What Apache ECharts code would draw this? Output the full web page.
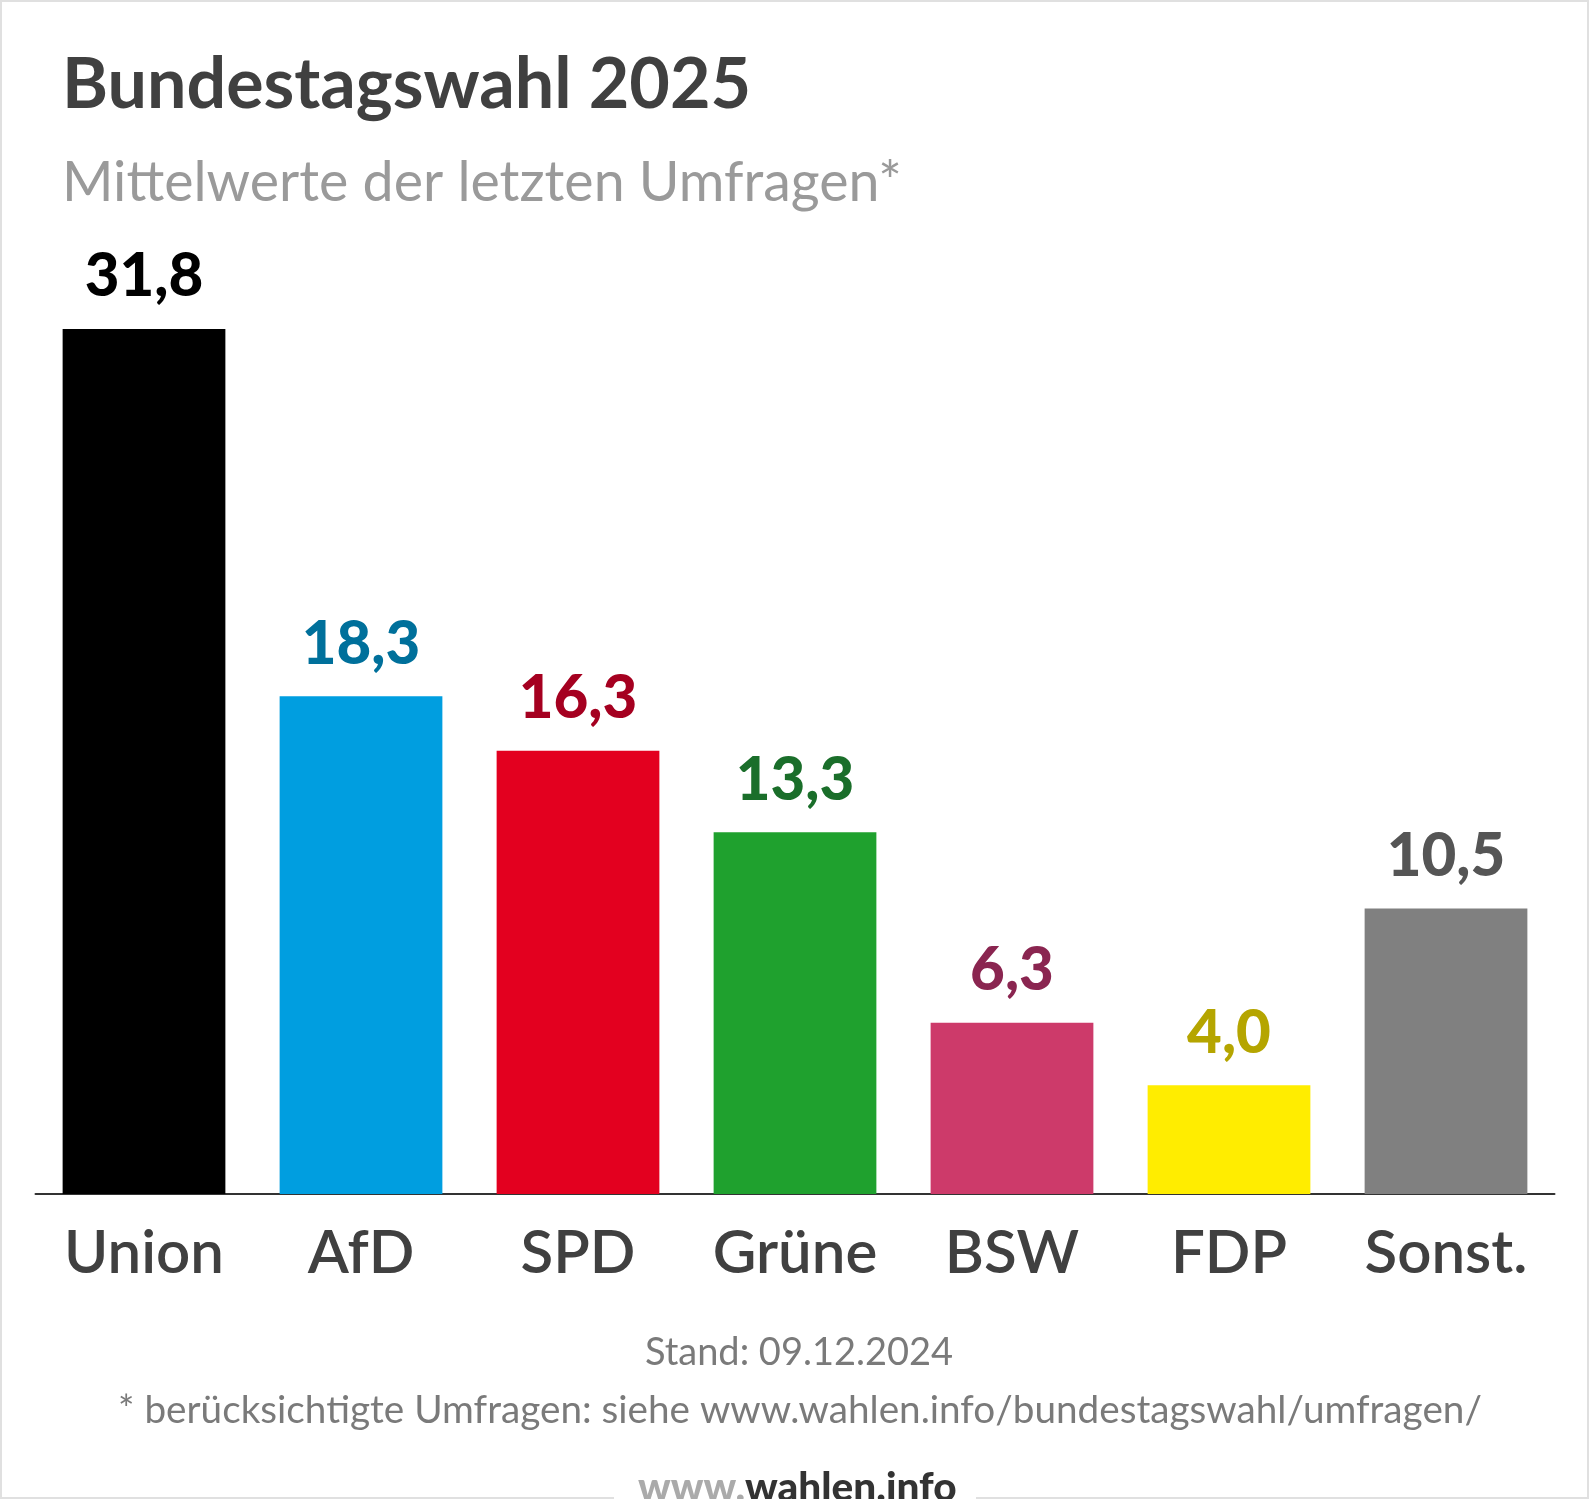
<!DOCTYPE html>
<html>
<head>
<meta charset="utf-8">
<script src="https://cdn.jsdelivr.net/npm/echarts@6/dist/echarts.min.js"></script>
<style>
html,body{margin:0;padding:0;background:#fff;}
#c{width:1589px;height:1499px;}
</style>
</head>
<body>
<div id="c"></div>
<script>
const categories = ['Union', 'AfD', 'SPD', 'Grüne', 'BSW', 'FDP', 'Sonst.'];
const values = [31.8, 18.3, 16.3, 13.3, 6.3, 4.0, 10.5];
const barColors = ['#000000', '#009ee0', '#e3001f', '#1fa12e', '#cd3a6a', '#ffed00', '#808080'];
const labelColors = ['#000000', '#00709b', '#a50020', '#1a6e2a', '#8a2550', '#b5a500', '#555555'];

const FONT = 'Lato, "Noto Sans", sans-serif';
const chart = echarts.init(document.getElementById('c'), null, {renderer: 'canvas'});
chart.setOption({
  backgroundColor: '#ffffff',
  animation: false,
  grid: {left: 35.5, right: 34.5, top: 106, bottom: 305, containLabel: false},
  xAxis: {
    type: 'category',
    data: categories,
    axisLine: {show: true, lineStyle: {color: '#333333', width: 2}},
    axisTick: {show: false},
    axisLabel: {color: '#404040', fontFamily: FONT, fontSize: 60, fontWeight: 600, margin: 30}
  },
  yAxis: {
    type: 'value', min: 0, max: 40,
    show: false,
    splitLine: {show: false}
  },
  series: [{
    type: 'bar',
    barCategoryGap: '25%',
    data: values.map((v, i) => ({
      value: v,
      itemStyle: {color: barColors[i]},
      label: {color: labelColors[i]}
    })),
    label: {
      show: true,
      position: 'top',
      distance: 22,
      fontFamily: FONT,
      fontSize: 60,
      fontWeight: 900,
      formatter: p => p.value.toFixed(1).replace('.', ',')
    }
  }],
  graphic: [
    {type: 'rect', z: -1, shape: {x: 1, y: 1, width: 1587, height: 1497}, style: {fill: 'none', stroke: '#e0e0e0', lineWidth: 2}},
    {type: 'text', left: 62, top: 50, style: {text: 'Bundestagswahl 2025', font: 'bold 70px ' + FONT, fill: '#404040'}},
    {type: 'text', left: 62, top: 155, style: {text: 'Mittelwerte der letzten Umfragen*', font: '400 55.5px ' + FONT, fill: '#9a9a9a'}},
    {type: 'text', x: 799, y: 1353, style: {text: 'Stand: 09.12.2024', font: '38px ' + FONT, fill: '#7a7a7a', textAlign: 'center', textVerticalAlign: 'middle'}},
    {type: 'text', x: 800, y: 1411, style: {text: '* berücksichtigte Umfragen: siehe www.wahlen.info/bundestagswahl/umfragen/', font: '38.7px ' + FONT, fill: '#7a7a7a', textAlign: 'center', textVerticalAlign: 'middle'}},
    {type: 'rect', shape: {x: 614, y: 1470, width: 362, height: 29}, style: {fill: '#ffffff'}},
    {type: 'text', x: 638, y: 1488, style: {
      text: '{a|www.}{b|wahlen.info}',
      textVerticalAlign: 'middle',
      rich: {
        a: {fontFamily: FONT, fontSize: 40.5, fontWeight: 900, fill: '#aaaaaa', color: '#aaaaaa'},
        b: {fontFamily: FONT, fontSize: 40.5, fontWeight: 900, fill: '#333333', color: '#333333'}
      }
    }}
  ]
});
</script>
</body>
</html>
